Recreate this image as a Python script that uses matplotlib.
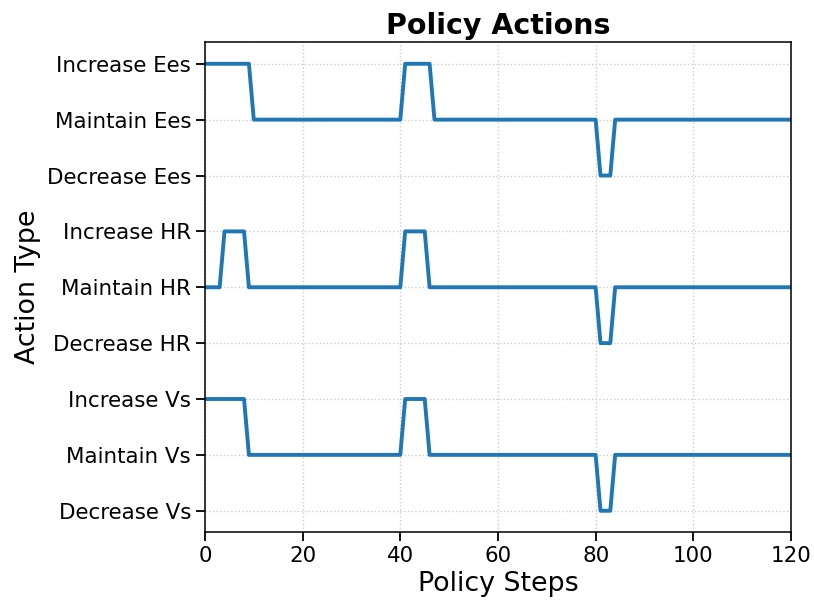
import matplotlib
matplotlib.use("Agg")
import matplotlib.pyplot as plt

# Action index at each policy step for the three controlled variables
steps = list(range(0, 121))

def build(segments):
    vals = []
    for start, end, v in segments:
        vals += [v] * (end - start + 1)
    return vals

# Levels: Decrease Vs=0 ... Increase Ees=8
ees_segments = [(0, 9, 8), (10, 40, 7), (41, 46, 8), (47, 80, 7), (81, 83, 6), (84, 120, 7)]
hr_segments = [(0, 3, 4), (4, 8, 5), (9, 40, 4), (41, 45, 5), (46, 80, 4), (81, 83, 3), (84, 120, 4)]
vs_segments = [(0, 8, 2), (9, 40, 1), (41, 45, 2), (46, 80, 1), (81, 83, 0), (84, 120, 1)]

ees_actions = build(ees_segments)
hr_actions = build(hr_segments)
vs_actions = build(vs_segments)

tick_labels = ["Decrease Vs", "Maintain Vs", "Increase Vs",
               "Decrease HR", "Maintain HR", "Increase HR",
               "Decrease Ees", "Maintain Ees", "Increase Ees"]

fig = plt.figure(figsize=(8.14, 6.05), dpi=100)
ax = fig.add_axes([0.2518, 0.1207, 0.7199, 0.8099])

color = "#1f77b4"
for series in (ees_actions, hr_actions, vs_actions):
    ax.plot(steps, series, color=color, linewidth=2.8)

ax.set_xlim(0, 120)
ax.set_ylim(-0.38, 8.39)
ax.set_yticks(range(len(tick_labels)))
ax.set_yticklabels(tick_labels)
ax.set_xticks([0, 20, 40, 60, 80, 100, 120])
ax.tick_params(axis="both", labelsize=15.4, length=6.5, width=1.3)
for s in ax.spines.values():
    s.set_linewidth(1.1)
ax.grid(True, linestyle=":", color="#cccccc", linewidth=1.0)

ax.set_xlabel("Policy Steps", fontsize=19.4)
ax.set_ylabel("Action Type", fontsize=19.4)
ax.set_title("Policy Actions", fontsize=20.5, fontweight="bold")

fig.savefig("out.png", dpi=100)
